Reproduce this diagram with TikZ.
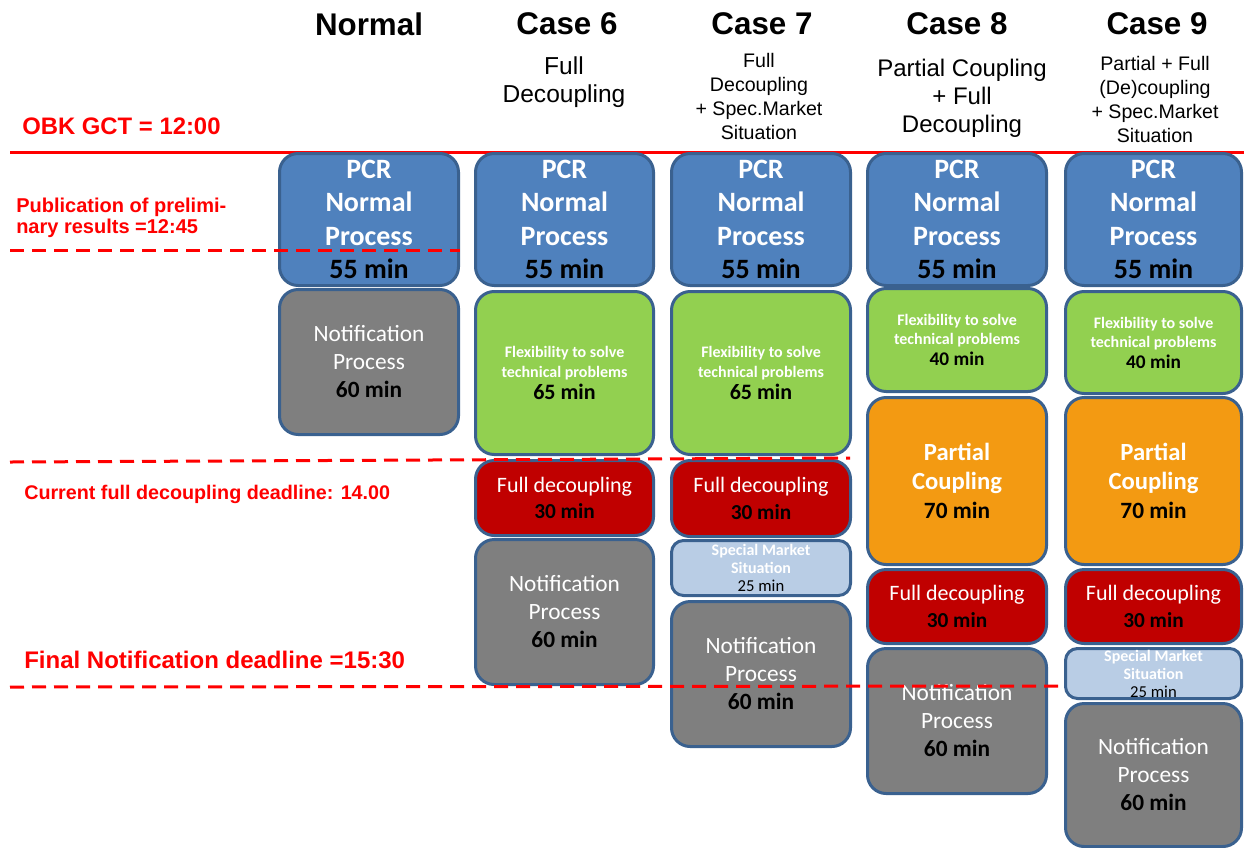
\documentclass[tikz,border=0pt]{standalone}
\usepackage{fontspec}
\setmainfont{Carlito}
\newfontfamily\arialf{Liberation Sans}
\definecolor{edge}{HTML}{3A618F}
\definecolor{pcrblue}{HTML}{4F81BD}
\definecolor{notegray}{HTML}{7F7F7F}
\definecolor{flexgreen}{HTML}{92D050}
\definecolor{fdred}{HTML}{C00000}
\definecolor{pcorange}{HTML}{F39A12}
\definecolor{smsblue}{HTML}{B9CDE5}
\definecolor{lred}{HTML}{FF0000}
\newcommand\bx[7]{%
  \pgfmathsetmacro\bxw{(#4-#2-3)*0.75}%
  \pgfmathsetmacro\bxh{(#5-#3-3)*0.75}%
  \node[#6,minimum width=\bxw pt,minimum height=\bxh pt] (#1) at ({(#2+#4)/2},{(#3+#5)/2}) {#7};}
\tikzset{
  blk/.style={draw=edge, line width=2.25pt, rounded corners=14pt, inner sep=0pt, align=center, text=white},
  pcrbox/.style={blk, fill=pcrblue, font=\fontsize{21}{25}\selectfont\bfseries},
  notebox/.style={blk, fill=notegray, font=\fontsize{17.5}{21}\selectfont},
  flexbox/.style={blk, fill=flexgreen, font=\fontsize{12}{14.5}\selectfont\bfseries},
  fdbox/.style={blk, fill=fdred, font=\fontsize{16.5}{19}\selectfont},
  pcbox/.style={blk, fill=pcorange, font=\fontsize{18.5}{21.75}\selectfont\bfseries},
  smsbox/.style={blk, fill=smsblue, rounded corners=9pt, font=\fontsize{12}{13.5}\selectfont\bfseries},
  head/.style={font=\arialf\bfseries\fontsize{23.5}{28}\selectfont, inner sep=0pt},
  sub/.style={font=\arialf\fontsize{18.4}{21}\selectfont, align=center, inner sep=0pt},
  subs/.style={font=\arialf\fontsize{14.7}{18}\selectfont, align=center, inner sep=0pt},
  redlbl/.style={text=lred, font=\arialf\bfseries, anchor=west, inner sep=0pt, align=left},
  solidred/.style={draw=lred, line width=2.25pt},
  dashred/.style={draw=lred, line width=2.25pt, dash pattern=on 10.5pt off 6pt},
}
\newcommand\pcrtext{PCR\\Normal\\Process\\{\color{black}55 min}}
\newcommand\notetext{Notification\\Process\\{\color{black}\bfseries 60 min}}
\newcommand\flextext{Flexibility to solve\\technical problems\\[2pt]{\fontsize{16.5}{19}\selectfont\color{black}65 min}}
\newcommand\flextextb{Flexibility to solve\\technical problems\\[1pt]{\fontsize{14.5}{17}\selectfont\color{black}40 min}}
\newcommand\fdtext{Full decoupling\\[1pt]{\bfseries\fontsize{16}{19}\selectfont\color{black}30 min}}
\newcommand\smstext{Special Market\\Situation\\{\mdseries\fontsize{12.5}{13.5}\selectfont\color{black}25 min}}
\newcommand\pctext{Partial\\Coupling\\{\fontsize{17.5}{21}\selectfont\color{black}70 min}}
\begin{document}
\begin{tikzpicture}[x=0.75pt,y=-0.75pt]
\useasboundingbox (0,0) rectangle (1244,847);
% top solid line
\coordinate (gctL) at (10,152);
\coordinate (gctR) at (1244,152);
\draw[solidred] (gctL) -- (gctR);
% headers
\node[head] (hN) at (369,24) {Normal};
\node[head] (h6) at (567,24) {Case 6};
\node[head] (h7) at (762,24) {Case 7};
\node[head] (h8) at (957,24) {Case 8};
\node[head] (h9) at (1157,24) {Case 9};
\node[sub] (s6) at (564,82) {Full\\Decoupling};
\node[subs] (s7) at (759,96) {Full\\Decoupling\\+ Spec.Market\\Situation};
\node[sub, font=\arialf\fontsize{18}{21}\selectfont] (s8) at (962,98) {Partial Coupling\\+ Full\\Decoupling};
\node[subs] (s9) at (1155,99) {Partial + Full\\(De)coupling\\+ Spec.Market\\Situation};
% Normal
\bx{n1}{278}{152}{460}{287}{pcrbox}{\pcrtext}
\bx{n2}{278}{288}{460}{436}{notebox}{\notetext}
% Case 6
\bx{a1}{474}{152}{655}{287}{pcrbox}{\pcrtext}
\bx{a2}{474}{290}{655}{456}{flexbox}{\flextext}
\bx{a3}{474}{459}{655}{537}{fdbox}{\fdtext}
\bx{a4}{474}{538}{655}{686}{notebox}{\notetext}
% Case 7
\bx{b1}{670}{152}{852}{287}{pcrbox}{\pcrtext}
\bx{b2}{670}{290}{852}{456}{flexbox}{\flextext}
\bx{b3}{670}{459}{852}{538}{fdbox}{\fdtext}
\bx{b4}{670}{539}{852}{597}{smsbox}{\smstext}
\bx{b5}{670}{600}{852}{748}{notebox}{\notetext}
% Case 8
\bx{c1}{866}{152}{1048}{287}{pcrbox}{\pcrtext}
\bx{c2}{866}{287}{1048}{393}{flexbox}{\flextextb}
\bx{c3}{866}{396}{1048}{566}{pcbox}{\pctext}
\bx{c4}{866}{568}{1048}{645}{fdbox}{\fdtext}
\bx{c5}{866}{647}{1048}{795}{notebox}{\notetext}
% Case 9
\bx{d1}{1064}{152}{1243}{287}{pcrbox}{\pcrtext}
\bx{d2}{1064}{290}{1243}{395}{flexbox}{\flextextb}
\bx{d3}{1064}{396}{1243}{566}{pcbox}{\pctext}
\bx{d4}{1064}{568}{1243}{645}{fdbox}{\fdtext}
\bx{d5}{1064}{647}{1243}{700}{smsbox}{\smstext}
\bx{d6}{1064}{702}{1243}{848}{notebox}{\notetext}
% dashed deadlines
\coordinate (pubL) at (10,250);
\coordinate (pubR) at (460,250);
\coordinate (fdL) at (10,462);
\coordinate (fdR) at (850,458);
\coordinate (finL) at (10,687);
\coordinate (finR) at (1064,686);
\draw[dashred] (pubL) -- (pubR);
\draw[dashred] (fdL) -- (fdR);
\draw[dashred] (finL) -- (finR);
% red labels
\node[redlbl, font=\arialf\bfseries\fontsize{17.9}{20}\selectfont] (lgct) at (22,126) {OBK GCT = 12:00};
\node[redlbl, font=\arialf\bfseries\fontsize{15}{15.5}\selectfont] (lpub) at (16,218) {Publication of prelimi-\\nary results =12:45};
\node[redlbl, font=\arialf\bfseries\fontsize{14.8}{16}\selectfont] (lfd) at (24,494) {Current full decoupling deadline: 14.00};
\node[redlbl, font=\arialf\bfseries\fontsize{18}{20}\selectfont] (lfin) at (24,660) {Final Notification deadline =15:30};
\end{tikzpicture}
\end{document}
